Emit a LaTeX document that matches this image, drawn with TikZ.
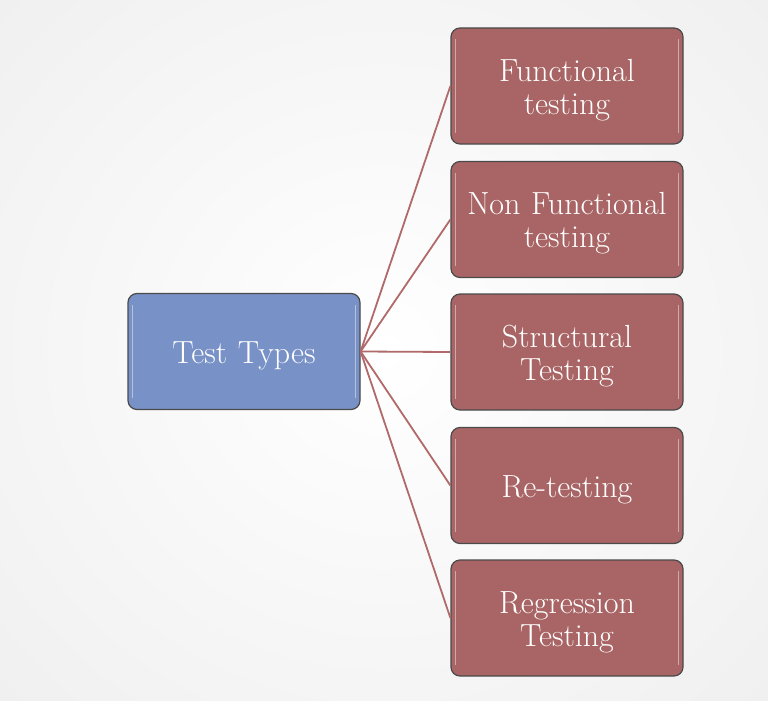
\documentclass[tikz,border=0pt]{standalone}
\definecolor{bluefill}{HTML}{7891C6}
\definecolor{redfill}{HTML}{A96565}
\definecolor{linkcol}{HTML}{B06A6A}
\definecolor{edgecol}{HTML}{4A4A4A}
\tikzset{
  box/.style={draw=edgecol, line width=1.2pt, rounded corners=9pt,
    minimum width=232pt, minimum height=116pt, inner sep=0pt},
  boxtext/.style={text width=228pt, align=center, text=white,
    font=\fontsize{32}{33}\selectfont, inner sep=0pt, yshift=-4pt},
  rootbox/.style={box, fill=bluefill},
  leafbox/.style={box, fill=redfill},
  link/.style={draw=linkcol, line width=1.8pt},
}
\begin{document}
\begin{tikzpicture}[x=1pt,y=-1pt]
\useasboundingbox (0,0) rectangle (768,701);
\shade[inner color=white, outer color=black!7] (-250,-250) rectangle (1018,951);
\node[rootbox, label={[boxtext]center:Test Types}] (root) at (244,351.5) {};
\node[leafbox, label={[boxtext]center:{Functional\\testing}}] (f) at (567,86) {};
\node[leafbox, label={[boxtext]center:{Non Functional\\testing}}] (nf) at (567,219.5) {};
\node[leafbox, label={[boxtext]center:{Structural\\Testing}}] (s) at (567,352) {};
\node[leafbox, label={[boxtext]center:Re-testing}] (rt) at (567,485.5) {};
\node[leafbox, label={[boxtext]center:{Regression\\Testing}}] (rg) at (567,618) {};
\foreach \n in {f,nf,s,rt,rg}{
  \draw[link] (root.east) -- (\n.west);
}
\foreach \n in {root,f,nf,s,rt,rg}{
  \draw[white, opacity=0.45, line width=1.5pt] ([xshift=5pt,yshift=-12pt]\n.north west) -- ([xshift=5pt,yshift=12pt]\n.south west);
  \draw[white, opacity=0.45, line width=1.5pt] ([xshift=-5pt,yshift=-12pt]\n.north east) -- ([xshift=-5pt,yshift=12pt]\n.south east);
}
\end{tikzpicture}
\end{document}
